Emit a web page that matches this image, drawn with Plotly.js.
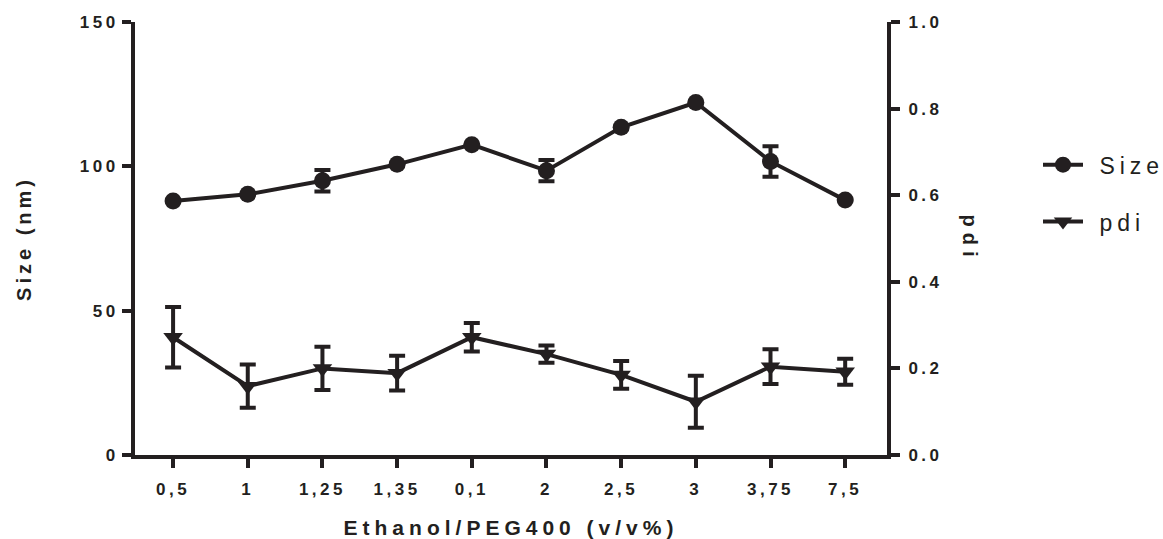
<!DOCTYPE html>
<html>
<head>
<meta charset="utf-8">
<script src="https://cdn.plot.ly/plotly-3.0.1.min.js"></script>
<style>
  html, body { margin: 0; padding: 0; background: #fff; }
  #chart { width: 1163px; height: 539px; }
  .xtick text, .ytick text, .y2tick text { letter-spacing: 3.5px; }
  .xtitle { letter-spacing: 5px; }
  .ytitle { letter-spacing: 4px; }
  .legendtext { letter-spacing: 5px; }
  .annotation-text { letter-spacing: 6px; }
</style>
</head>
<body>
<div id="chart"></div>
<script>
const categories = ["0,5", "1", "1,25", "1,35", "0,1", "2", "2,5", "3", "3,75", "7,5"];
const sizeValues = [88, 90.3, 95, 100.7, 107.5, 98.5, 113.5, 122.1, 101.7, 88.3];
const sizeErrors = [0, 0, 3.7, 0, 0, 3.7, 0, 0, 5.3, 0];
const pdiValues = [0.272, 0.159, 0.200, 0.189, 0.272, 0.233, 0.185, 0.123, 0.204, 0.192];
const pdiErrors = [0.07, 0.05, 0.05, 0.04, 0.033, 0.02, 0.032, 0.06, 0.04, 0.03];
const leftTicks = [0, 50, 100, 150];
const rightTicks = [0, 0.2, 0.4, 0.6, 0.8, 1.0];

const ink = "#231f20";
const fam = "Liberation Sans, Arial, sans-serif";
const tickFont = { family: fam, size: 17, color: ink, weight: 700 };

const traces = [
  {
    type: "scatter", mode: "lines+markers", name: "\u00a0Size",
    x: categories, y: sizeValues, yaxis: "y", legendgroup: "a",
    line: { color: ink, width: 4 },
    marker: { symbol: "circle", size: 17, color: ink },
    error_y: { type: "data", array: sizeErrors, visible: true, color: ink, thickness: 4, width: 8 }
  },
  {
    type: "scatter", mode: "lines+markers", name: "\u00a0pdi",
    x: categories, y: pdiValues, yaxis: "y2", legendgroup: "b",
    line: { color: ink, width: 4 },
    marker: { symbol: "triangle-down", size: 17, color: ink },
    error_y: { type: "data", array: pdiErrors, visible: true, color: ink, thickness: 4, width: 8 }
  }
];

const layout = {
  width: 1163, height: 539,
  margin: { l: 135, r: 276, t: 22, b: 84, autoexpand: false },
  paper_bgcolor: "#fff", plot_bgcolor: "#fff",
  showlegend: true,
  legend: {
    x: 1.2008, y: 0.72, xanchor: "left", yanchor: "top",
    traceorder: "grouped", tracegroupgap: 24,
    font: { family: fam, size: 23, color: ink },
    itemwidth: 40
  },
  xaxis: {
    type: "category", categoryorder: "array", categoryarray: categories,
    range: [-0.51, 9.56],
    showline: true, linecolor: ink, linewidth: 4,
    ticks: "outside", ticklen: 9, tickwidth: 4, tickcolor: ink,
    showgrid: false, zeroline: false, automargin: false,
    tickfont: tickFont, ticklabelstandoff: 7,
    title: { text: "Ethanol/PEG400 (v/v%)", standoff: 24,
      font: { family: fam, size: 21, color: ink, weight: 700 } }
  },
  yaxis: {
    range: [0, 150], tickvals: leftTicks,
    showline: true, linecolor: ink, linewidth: 4,
    ticks: "outside", ticklen: 9, tickwidth: 4, tickcolor: ink,
    showgrid: false, zeroline: false, automargin: false,
    tickfont: tickFont, ticklabelstandoff: 0,
    title: { text: "Size (nm)", standoff: 44,
      font: { family: fam, size: 20, color: ink, weight: 700 } }
  },
  yaxis2: {
    range: [0, 1], tickvals: rightTicks, tickformat: ".1f",
    overlaying: "y", side: "right",
    showline: true, linecolor: ink, linewidth: 4,
    ticks: "outside", ticklen: 9, tickwidth: 4, tickcolor: ink,
    showgrid: false, zeroline: false, automargin: false,
    tickfont: tickFont, ticklabelstandoff: 5
  },
  annotations: [
    { text: "pdi", xref: "paper", yref: "paper", x: 1.1117, y: 0.50,
      xanchor: "center", yanchor: "middle", showarrow: false, textangle: 90,
      font: { family: fam, size: 20, color: ink, weight: 700 } }
  ]
};

Plotly.newPlot("chart", traces, layout, { displayModeBar: false, staticPlot: true });
</script>
</body>
</html>
